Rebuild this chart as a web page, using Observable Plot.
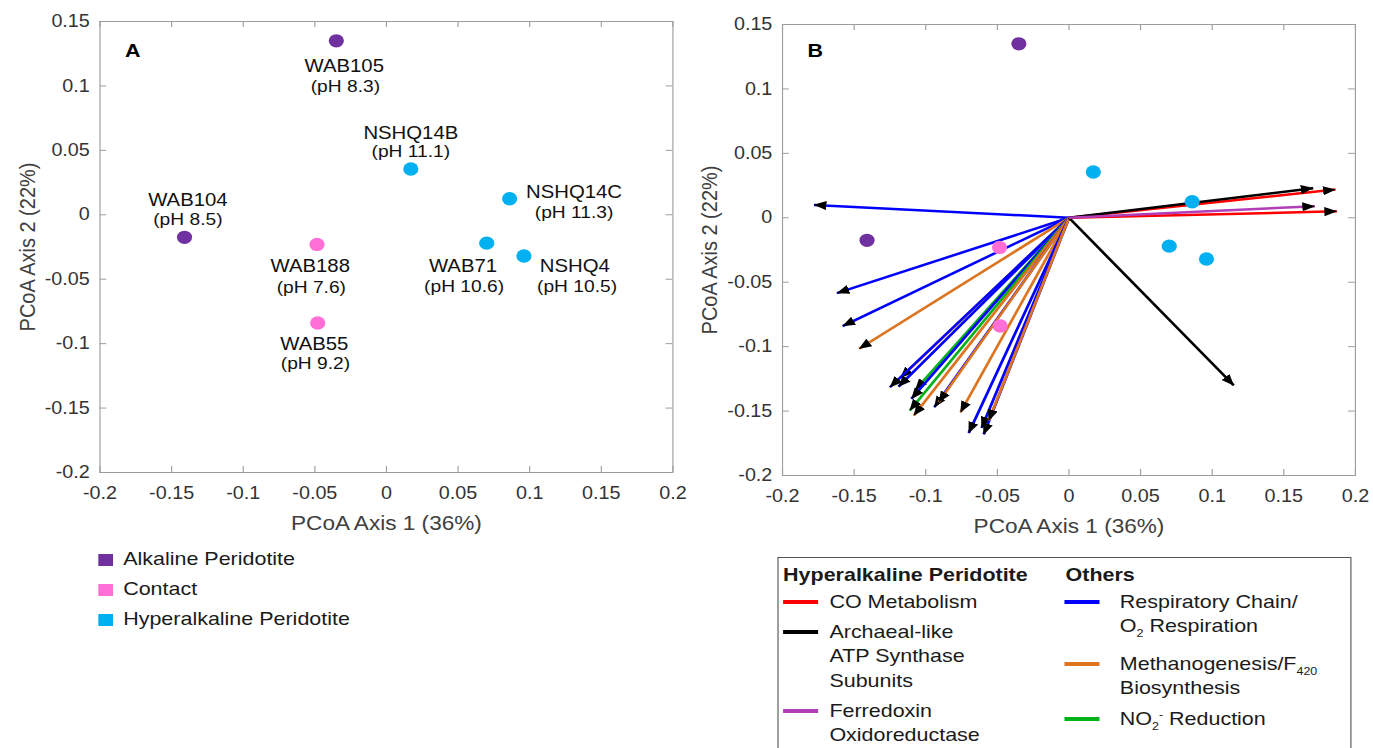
<!DOCTYPE html>
<html>
<head>
<meta charset="utf-8">
<script src="https://cdn.jsdelivr.net/npm/d3@7"></script>
<script src="https://cdn.jsdelivr.net/npm/@observablehq/plot@0.6"></script>
<style>
  html, body { margin: 0; padding: 0; background: #fff; overflow: hidden; }
  /* the figure is laid out on a 1215px-wide sheet and widened to the window */
  #page {
    position: relative; width: 1215px; height: 748px;
    transform: scale(1.13, 1); transform-origin: 0 0;
    font-family: "Liberation Sans", Arial, Helvetica, sans-serif; color: #1a1a1a;
  }
  .panel { position: absolute; top: 0; }
  .lgA { position: absolute; left: 87px; font-size: 19px; line-height: 20px; white-space: nowrap; }
  .lgA span.sw { display: inline-block; width: 13px; height: 12px; margin-right: 9px; vertical-align: -1px; }
  #legendB { position: absolute; left: 688px; top: 557px; width: 508px; height: 210px;
             border: 1px solid #555; box-sizing: border-box; }
  .lgB { position: absolute; font-size: 19px; line-height: 24.5px; white-space: nowrap; }
  .lgB.head { font-weight: bold; }
  .lgB sub { font-size: 11px; vertical-align: -5px; line-height: 0; }
  .lgB sup { font-size: 11px; vertical-align: 7px; line-height: 0; }
  .swB { position: absolute; width: 31px; height: 4px; }
</style>
</head>
<body>
<div id="page"></div>
<script>
// ---- samples (PCoA scores) ----
const sampleNames = ["WAB105", "WAB104", "WAB188", "WAB55", "NSHQ14B", "NSHQ14C", "WAB71", "NSHQ4"];
const sampleSites = ["Alkaline Peridotite", "Alkaline Peridotite", "Contact", "Contact",
                     "Hyperalkaline Peridotite", "Hyperalkaline Peridotite", "Hyperalkaline Peridotite", "Hyperalkaline Peridotite"];
const samplePH = ["8.3", "8.5", "7.6", "9.2", "11.1", "11.3", "10.6", "10.5"];
const pcoa1 = [-0.035, -0.141, -0.0485, -0.048, 0.017, 0.086, 0.070, 0.096];
const pcoa2 = [0.135, -0.0175, -0.023, -0.084, 0.0355, 0.0125, -0.022, -0.032];

const siteNames = ["Alkaline Peridotite", "Contact", "Hyperalkaline Peridotite"];
const siteColors = ["#7030a0", "#ff6fd6", "#00b0f0"];

// ---- functional-gene vectors (biplot) ----
const vectorGroups = ["CO Metabolism", "Archaeal-like ATP Synthase Subunits", "Ferredoxin Oxidoreductase",
                      "Respiratory Chain/O2 Respiration", "Methanogenesis/F420 Biosynthesis", "NO2- Reduction"];
const vectorColors = ["#ff0000", "#000000", "#b13db8", "#0000ff", "#dc7420", "#00b21a"];
const vectorOrigin = [0, 0];
const vectorGroup = [
  "Respiratory Chain/O2 Respiration", "Respiratory Chain/O2 Respiration", "Respiratory Chain/O2 Respiration",
  "Methanogenesis/F420 Biosynthesis", "Methanogenesis/F420 Biosynthesis", "Respiratory Chain/O2 Respiration",
  "Respiratory Chain/O2 Respiration", "NO2- Reduction", "Respiratory Chain/O2 Respiration", "NO2- Reduction",
  "Methanogenesis/F420 Biosynthesis", "Respiratory Chain/O2 Respiration", "Methanogenesis/F420 Biosynthesis",
  "Methanogenesis/F420 Biosynthesis", "Respiratory Chain/O2 Respiration", "Respiratory Chain/O2 Respiration",
  "Respiratory Chain/O2 Respiration", "Methanogenesis/F420 Biosynthesis",
  "CO Metabolism", "CO Metabolism", "Archaeal-like ATP Synthase Subunits", "Archaeal-like ATP Synthase Subunits",
  "Ferredoxin Oxidoreductase"
];
const vectorAxis1 = [-0.178, -0.162, -0.158, -0.1465, -0.1176, -0.125, -0.119, -0.1072, -0.110, -0.1111,
                     -0.1083, -0.094, -0.0909, -0.0757, -0.070, -0.061, -0.0595, -0.056,
                     0.186, 0.187, 0.1705, 0.115, 0.1716];
const vectorAxis2 = [0.010, -0.0585, -0.084, -0.1017, -0.1242, -0.1315, -0.131, -0.1335, -0.1405, -0.1495,
                     -0.1534, -0.147, -0.1431, -0.1509, -0.167, -0.163, -0.168, -0.1573,
                     0.022, 0.005, 0.023, -0.130, 0.009];

// ---- axes ----
const xTicks = [-0.2, -0.15, -0.1, -0.05, 0, 0.05, 0.1, 0.15, 0.2];
const yTicks = [-0.2, -0.15, -0.1, -0.05, 0, 0.05, 0.1, 0.15];
const xTitle = "PCoA Axis 1 (36%)";
const yTitle = "PCoA Axis 2 (22%)";

// ---- tables built from the arrays above ----
const samples = sampleNames.map((name, i) => ({
  name, site: sampleSites[i], ph: `(pH ${samplePH[i]})`, a1: pcoa1[i], a2: pcoa2[i]
}));
const vectors = vectorGroup.map((group, i) => ({group, a1: vectorAxis1[i], a2: vectorAxis2[i]}));

// label placement (pixel nudges of the name line and the pH line)
const labelNudge = {
  WAB105: [[7, 25], [8, 46]],
  NSHQ14B: [[0, -36], [0, -17]],
  WAB104: [[3, -37], [3, -18]],
  NSHQ14C: [[57, -6], [57, 14]],
  WAB188: [[-6, 22], [-5, 43]],
  WAB71: [[-21, 23], [-20, 43]],
  NSHQ4: [[45, 10], [47, 31]],
  WAB55: [[-3, 21], [-2, 41]]
};

const fmt = d => String(Math.round(d * 100) / 100);
const frameGray = "#9d9d9d";
const H = 530;

function boxAxes(innerW, innerH, letter) {
  return [
    Plot.frame({stroke: frameGray}),
    Plot.tickX(xTicks, {x: d => d, insetTop: innerH - 6, stroke: frameGray}),
    Plot.tickX(xTicks, {x: d => d, insetBottom: innerH - 6, stroke: frameGray}),
    Plot.tickY(yTicks, {y: d => d, insetRight: innerW - 6, stroke: frameGray}),
    Plot.tickY(yTicks, {y: d => d, insetLeft: innerW - 6, stroke: frameGray}),
    Plot.axisX({ticks: xTicks, tickSize: 0, tickPadding: 14, tickFormat: fmt, color: "#333", label: null}),
    Plot.axisY({ticks: yTicks, tickSize: 0, tickPadding: 9, tickFormat: fmt, color: "#333", label: null}),
    Plot.text([xTitle], {frameAnchor: "bottom", dy: 51, lineAnchor: "middle", textAnchor: "middle",
                         fontSize: 20, fill: "#404040"}),
    Plot.text([yTitle], {frameAnchor: "left", dx: -64, rotate: -90, lineAnchor: "middle", textAnchor: "middle",
                         fontSize: 20, fill: "#404040"}),
    Plot.text([letter], {frameAnchor: "top-left", dx: 29, dy: letter === "A" ? 29 : 26, textAnchor: "middle",
                         lineAnchor: "middle", fontSize: 19, fontWeight: "bold", fill: "#000"})
  ];
}

const colorScale = {
  type: "ordinal",
  domain: [...siteNames, ...vectorGroups],
  range: [...siteColors, ...vectorColors]
};

const baseStyle = {fontFamily: '"Liberation Sans", Arial, Helvetica, sans-serif', fontSize: "17.5px",
                   background: "transparent", overflow: "visible"};

// arrowhead: filled black triangle with its tip on the vector end
const arrowHead = (color, context) => {
  const ns = "http://www.w3.org/2000/svg";
  const doc = (context && context.document) || document;
  const m = doc.createElementNS(ns, "marker");
  m.setAttribute("viewBox", "-11 -5 12 10");
  m.setAttribute("markerWidth", 12);
  m.setAttribute("markerHeight", 10);
  m.setAttribute("markerUnits", "userSpaceOnUse");
  m.setAttribute("refX", 0);
  m.setAttribute("refY", 0);
  m.setAttribute("orient", "auto");
  const p = doc.createElementNS(ns, "path");
  p.setAttribute("d", "M-11,-4.6L0.5,0L-11,4.6Z");
  p.setAttribute("fill", "#000");
  m.appendChild(p);
  return m;
};

// ---- panel A: sample ordination ----
const mA = {left: 88, right: 17, top: 21, bottom: 58};
const wA = 612;
const labelMarks = [];
for (const s of samples) {
  const [[nx, ny], [px, py]] = labelNudge[s.name];
  const one = samples.filter(d => d.name === s.name);
  labelMarks.push(Plot.text(one, {x: "a1", y: "a2", text: "name", dx: nx, dy: ny, fontSize: 18, fill: "#111"}));
  labelMarks.push(Plot.text(one, {x: "a1", y: "a2", text: "ph", dx: px, dy: py, fontSize: 17, fill: "#111"}));
}
const plotA = Plot.plot({
  width: wA, height: H,
  marginLeft: mA.left, marginRight: mA.right, marginTop: mA.top, marginBottom: mA.bottom,
  style: baseStyle,
  x: {domain: [-0.2, 0.2]},
  y: {domain: [-0.2, 0.15]},
  color: colorScale,
  marks: [
    ...boxAxes(wA - mA.left - mA.right, H - mA.top - mA.bottom, "A"),
    Plot.dot(samples, {x: "a1", y: "a2", fill: "site", r: 6.7}),
    ...labelMarks
  ]
});

// ---- panel B: biplot with gene vectors ----
const mB = {left: 80, right: 16, top: 24, bottom: 55};
const wB = 603;
const plotB = Plot.plot({
  width: wB, height: H,
  marginLeft: mB.left, marginRight: mB.right, marginTop: mB.top, marginBottom: mB.bottom,
  style: baseStyle,
  x: {domain: [-0.2, 0.2]},
  y: {domain: [-0.2, 0.15]},
  color: colorScale,
  marks: [
    ...boxAxes(wB - mB.left - mB.right, H - mB.top - mB.bottom, "B"),
    Plot.link(vectors, {x1: () => vectorOrigin[0], y1: () => vectorOrigin[1], x2: "a1", y2: "a2",
                        stroke: "group", strokeWidth: 2.5, markerEnd: arrowHead}),
    Plot.dot(samples, {x: "a1", y: "a2", fill: "site", r: 6.7})
  ]
});

const page = document.getElementById("page");
plotA.classList.add("panel"); plotA.style.left = "0px";
plotB.classList.add("panel"); plotB.style.left = wA + "px";
page.appendChild(plotA);
page.appendChild(plotB);

// ---- legend under panel A ----
const legendATops = [549, 579, 609];
siteNames.forEach((name, i) => {
  const div = document.createElement("div");
  div.className = "lgA";
  div.style.top = legendATops[i] + "px";
  div.innerHTML = `<span class="sw" style="background:${siteColors[i]}"></span>${name}`;
  page.appendChild(div);
});

// ---- legend under panel B ----
const legendB = document.createElement("div");
legendB.id = "legendB";
page.appendChild(legendB);
const legendBHeads = [
  {text: "Hyperalkaline Peridotite", x: 4, y: 5},
  {text: "Others", x: 254, y: 5}
];
const legendBLabels = [
  "CO Metabolism",
  "Archaeal-like<br>ATP Synthase<br>Subunits",
  "Ferredoxin<br>Oxidoreductase",
  "Respiratory Chain/<br>O<sub>2</sub> Respiration",
  "Methanogenesis/F<sub>420</sub><br>Biosynthesis",
  "NO<sub>2</sub><sup>-</sup> Reduction"
];
// position of each entry inside the box: swatch x, text x, first-line centre y
const legendBSlots = [
  [4, 45, 44], [4, 45, 74], [4, 45, 153],
  [253, 302, 44], [253, 302, 106], [253, 302, 161]
];
for (const h of legendBHeads) {
  const d = document.createElement("div");
  d.className = "lgB head";
  d.style.left = h.x + "px"; d.style.top = h.y + "px";
  d.textContent = h.text;
  legendB.appendChild(d);
}
vectorGroups.forEach((g, i) => {
  const [sx, tx, cy] = legendBSlots[i];
  const sw = document.createElement("div");
  sw.className = "swB";
  sw.style.left = sx + "px"; sw.style.top = (cy - 2) + "px";
  sw.style.background = vectorColors[i];
  legendB.appendChild(sw);
  const t = document.createElement("div");
  t.className = "lgB";
  t.style.left = tx + "px"; t.style.top = (cy - 12.25) + "px";
  t.innerHTML = legendBLabels[i];
  legendB.appendChild(t);
});
</script>
</body>
</html>
